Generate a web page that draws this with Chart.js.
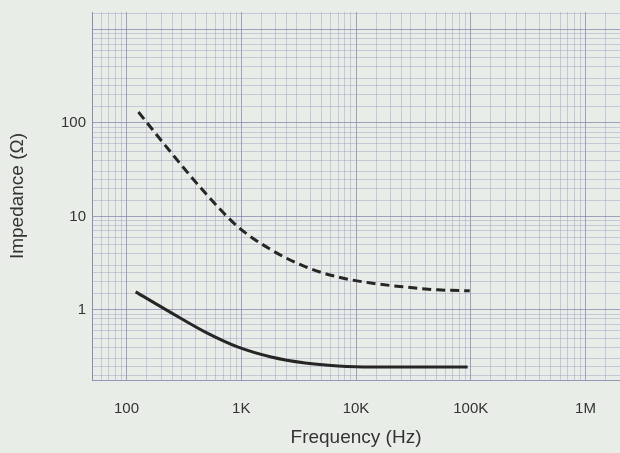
<!DOCTYPE html>
<html>
<head>
<meta charset="utf-8">
<script src="https://cdn.jsdelivr.net/npm/chart.js@4.4.0/dist/chart.umd.min.js"></script>
<style>
  html, body { margin: 0; padding: 0; background: #e9ede7; }
  #wrap { width: 620px; height: 453px; position: relative; }
</style>
</head>
<body>
<div id="wrap"><canvas id="impChart"></canvas></div>
<script>
// frequencies (Hz)
const freqDashed = [127, 246, 486, 942, 1824, 3603, 6970, 13500, 26700, 51600, 98000];
const zDashed    = [131, 47.8, 17.8, 7.7, 4.4, 2.9, 2.25, 1.94, 1.76, 1.64, 1.60];

const freqSolid = [120, 246, 486, 942, 1824, 3603, 6970, 13500, 36900, 94000];
const zSolid    = [1.56, 0.93, 0.58, 0.40, 0.314, 0.271, 0.252, 0.245, 0.245, 0.245];

const xTickValues = [100, 1000, 10000, 100000, 1000000];
const xTickLabels = ['100', '1K', '10K', '100K', '1M'];
const yTickValues = [1, 10, 100];
const yTickLabels = ['1', '10', '100'];

const X_MIN = 50, X_MAX = 2000000;
const Y_MIN = 0.178, Y_MAX = 1540;

// log paper grid lines: 1, 1.5, 2, 2.5, 3 ... 9 in each decade
function paperLines(min, max) {
  const steps = [1, 1.5, 2, 2.5, 3, 4, 5, 6, 7, 8, 9];
  const out = [];
  for (let e = Math.floor(Math.log10(min)); e <= Math.ceil(Math.log10(max)); e++) {
    steps.forEach(s => {
      const v = s * Math.pow(10, e);
      if (v >= min && v <= max) out.push(v);
    });
  }
  return out;
}

function toPts(xs, ys) {
  return xs.map((x, i) => ({ x: x, y: ys[i] }));
}

function findLabel(v, vals, labels) {
  const i = vals.findIndex(t => Math.abs(t - v) / t < 1e-6);
  return i >= 0 ? labels[i] : '';
}

const gridCol = ctx => {
  const v = ctx.tick ? ctx.tick.value : 0;
  const m = Math.log10(v);
  return Math.abs(m - Math.round(m)) < 1e-6 ? 'rgba(125,128,170,0.7)' : 'rgba(150,155,195,0.45)';
};

new Chart(document.getElementById('impChart'), {
  type: 'scatter',
  data: {
    datasets: [{
      label: 'dashed',
      data: toPts(freqDashed, zDashed),
      showLine: true,
      borderColor: '#262626',
      borderWidth: 3,
      borderDash: [9, 5],
      pointRadius: 0,
      tension: 0.4,
      cubicInterpolationMode: 'monotone'
    }, {
      label: 'solid',
      data: toPts(freqSolid, zSolid),
      showLine: true,
      borderColor: '#262626',
      borderWidth: 3,
      pointRadius: 0,
      tension: 0.4,
      cubicInterpolationMode: 'monotone'
    }]
  },
  options: {
    responsive: true,
    maintainAspectRatio: false,
    animation: false,
    layout: { padding: { top: 12, right: 0, left: 0, bottom: 0 } },
    plugins: {
      legend: { display: false },
      tooltip: { enabled: false }
    },
    scales: {
      x: {
        type: 'logarithmic',
        min: X_MIN,
        max: X_MAX,
        afterBuildTicks: s => { s.ticks = paperLines(X_MIN, X_MAX).map(v => ({ value: v })); },
        afterFit: s => { s.height = 73; s.paddingLeft = 0; s.paddingRight = 0; },
        grid: { color: gridCol, lineWidth: 1, drawTicks: false },
        border: { color: 'rgba(125,128,170,0.8)' },
        ticks: {
          autoSkip: false,
          maxRotation: 0,
          padding: 20,
          color: '#333',
          font: { family: 'Liberation Sans', size: 15 },
          callback: v => findLabel(v, xTickValues, xTickLabels)
        },
        title: {
          display: true,
          text: 'Frequency (Hz)',
          color: '#333',
          font: { family: 'Liberation Sans', size: 19 },
          padding: { top: 2 }
        }
      },
      y: {
        type: 'logarithmic',
        min: Y_MIN,
        max: Y_MAX,
        afterBuildTicks: s => { s.ticks = paperLines(Y_MIN, Y_MAX).map(v => ({ value: v })); },
        afterFit: s => { s.width = 92; s.paddingTop = 0; s.paddingBottom = 0; },
        grid: { color: gridCol, lineWidth: 1, drawTicks: false },
        border: { color: 'rgba(125,128,170,0.8)' },
        ticks: {
          autoSkip: false,
          padding: 6,
          color: '#333',
          font: { family: 'Liberation Sans', size: 15 },
          callback: v => findLabel(v, yTickValues, yTickLabels)
        },
        title: {
          display: true,
          text: 'Impedance (Ω)',
          color: '#333',
          font: { family: 'Liberation Sans', size: 19 },
          padding: { top: 6, bottom: 0 }
        }
      }
    }
  }
});
</script>
</body>
</html>
